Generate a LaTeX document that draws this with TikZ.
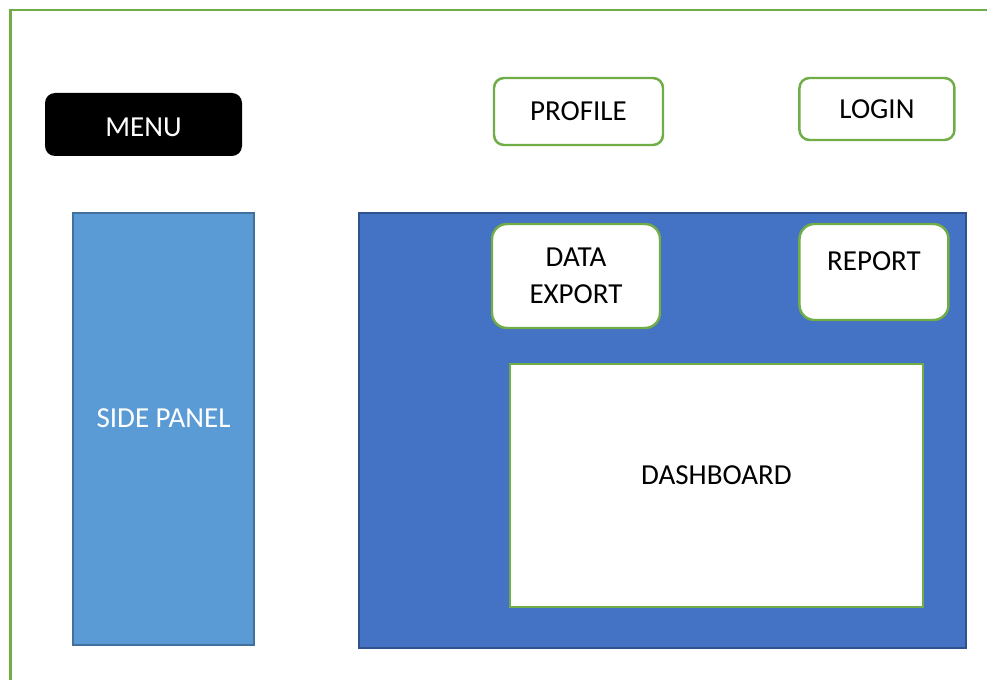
\documentclass[tikz,border=0pt]{standalone}
\usepackage{fontspec}
\setmainfont{Carlito}
\usepackage{tikz}
\usetikzlibrary{positioning}

\definecolor{framegreen}{HTML}{70AD47}
\definecolor{mainblue}{HTML}{4472C4}
\definecolor{mainedge}{HTML}{2F528F}
\definecolor{sideblue}{HTML}{5B9BD5}
\definecolor{sideedge}{HTML}{41719C}

\tikzstyle{button} = [draw=framegreen, line width=1.4pt, fill=white, rounded corners=0.2cm, align=center]
\tikzstyle{panel} = [line width=0.9pt, inner sep=0pt]

\begin{document}
\begin{tikzpicture}[node distance=1cm, font=\fontsize{16.5}{21}\selectfont]

	\useasboundingbox (0,0) rectangle (19.74,-13.6);
	\draw[framegreen, line width=1.7pt] (0.21,-13.6) |- (19.74,-0.2);

	\node[fill=black, text=white, rounded corners=0.2cm, minimum width=3.94cm, minimum height=1.26cm, text height=0.5cm](menu) at (2.87,-2.49) {MENU};
	\node[button, minimum width=3.38cm, minimum height=1.34cm](profile) at (11.57,-2.23) {PROFILE};
	\node[button, minimum width=3.10cm, minimum height=1.24cm, right=2.68cm of profile, yshift=0.05cm](login) {LOGIN};

	\node[panel, draw=sideedge, fill=sideblue, text=white, minimum width=3.62cm, minimum height=8.64cm, text depth=0.45cm](sidepanel) at (3.27,-8.58) {SIDE PANEL};
	\node[panel, draw=mainedge, fill=mainblue, minimum width=12.14cm, minimum height=8.70cm](main) at (13.25,-8.61) {};

	\node[button, rounded corners=0.3cm, minimum width=3.36cm, minimum height=2.08cm](export) at (11.52,-5.52) {DATA\\EXPORT};
	\node[button, rounded corners=0.3cm, minimum width=2.98cm, minimum height=1.92cm, text depth=0.45cm, right=2.74cm of export.north east, anchor=north west](report) {REPORT};
	\node[draw=framegreen, line width=1.3pt, fill=white, minimum width=8.26cm, minimum height=4.86cm, text depth=0.4cm](dashboard) at (14.33,-9.71) {DASHBOARD};

\end{tikzpicture}
\end{document}
